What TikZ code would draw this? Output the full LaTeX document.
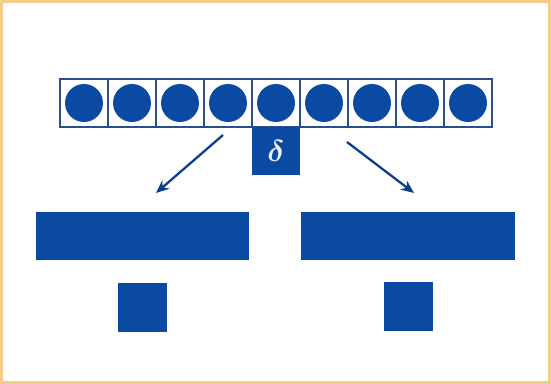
\documentclass[tikz,border=0pt]{standalone}
\usepackage{amsmath}
\usetikzlibrary{arrows.meta, positioning}
\definecolor{cblue}{HTML}{0B4AA2}
\definecolor{cline}{HTML}{2A4E92}
\definecolor{cframe}{HTML}{F4CC8A}
\tikzset{
  every picture/.style={line width=1pt},
  cell/.style={draw=cline, fill=white, line width=1.4pt, minimum size=0.96cm, inner sep=0pt, outer sep=0pt},
  ball/.style={circle, fill=cblue, minimum size=0.76cm, inner sep=0pt},
  block/.style={fill=cblue, inner sep=0pt, outer sep=0pt, minimum height=0.96cm},
  arrow/.style={-{Stealth[length=0.26cm, width=0.22cm]}, draw=cblue!85!black, line width=1.3pt},
}
\begin{document}
\begin{tikzpicture}
  % ---- frame ----
  \useasboundingbox (0,0) rectangle (11.02,-7.68);
  \draw[cframe, line width=1.3pt] (0.03,-0.03) rectangle (10.99,-7.65);
  % ---- array of balls ----
  \node[cell] (cell1) at (1.68,-2.06) {};
  \foreach \i [remember=\i as \j (initially 1)] in {2,...,9}
    \node[cell, right=0pt of cell\j] (cell\i) {};
  \foreach \i in {1,...,9}
    \node[ball] (ball\i) at (cell\i) {};
  % ---- pivot ----
  \node[block, minimum width=0.96cm, text=white!92!cblue, font=\fontsize{17}{20}\selectfont, below=0pt of cell5] (pivot) {$\boldsymbol{\delta}$};
  % ---- the two parts ----
  \node[block, minimum width=4.26cm, below left=0.74cm and 0.06cm of pivot.south west] (lbar) {};
  \node[block, minimum width=4.28cm, below right=0.74cm and 0.02cm of pivot.south east] (rbar) {};
  \node[block, minimum width=0.98cm, minimum height=0.98cm, below=0.46cm of lbar] (lsq) {};
  \node[block, minimum width=0.98cm, minimum height=0.98cm, below=0.44cm of rbar] (rsq) {};
  % ---- arrows ----
  \coordinate (la) at ([xshift=-0.1cm, yshift=-0.16cm]cell4.south);
  \coordinate (lb) at ([xshift=0.27cm, yshift=0.38cm]lbar.north);
  \coordinate (ra) at ([xshift=-0.02cm, yshift=-0.3cm]cell7.south west);
  \coordinate (rb) at ([xshift=0.12cm, yshift=0.38cm]rbar.north);
  \draw[arrow] (la) -- (lb);
  \draw[arrow] (ra) -- (rb);
\end{tikzpicture}
\end{document}
